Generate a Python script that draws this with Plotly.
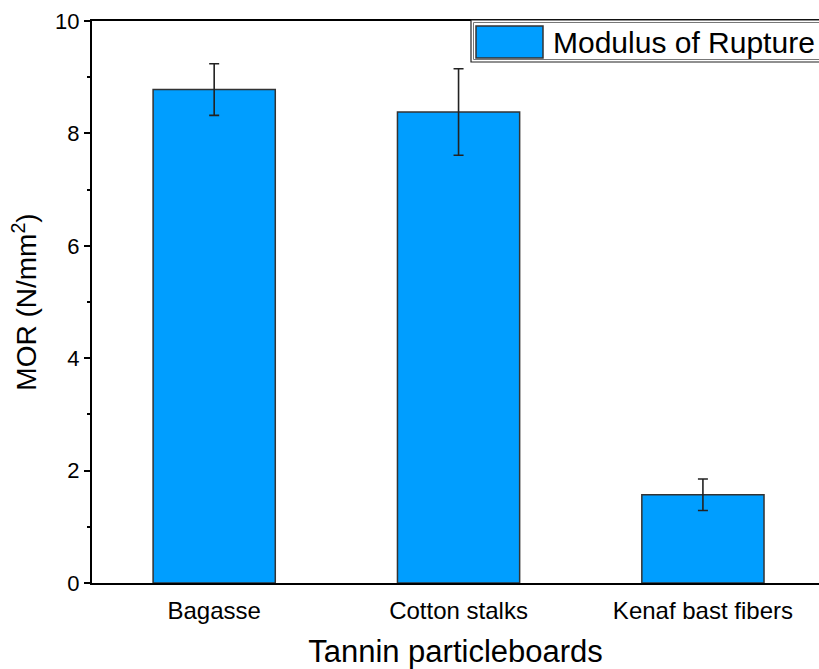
import plotly.graph_objects as go

# Flexural strength of tannin-bonded particleboards
categories = ["Bagasse", "Cotton stalks", "Kenaf bast fibers"]
mor_mean = [8.78, 8.38, 1.57]
mor_sd = [0.46, 0.77, 0.28]
y_ticks = [0, 2, 4, 6, 8, 10]
series_name = "Modulus of Rupture"

W, H = 819, 669
ML, MR, MT, MB = 92, 0, 21, 86
PW, PH = W - ML - MR, H - MT - MB

BAR_FILL = "#009EFF"
EDGE = "#333333"
FONT = "Liberation Sans, Arial, sans-serif"


def px(x):
    return (x - ML) / PW


def py(y):
    return (H - MB - y) / PH


fig = go.Figure()
fig.add_trace(go.Bar(
    x=list(range(len(categories))),
    y=mor_mean,
    width=0.5,
    name=series_name,
    marker=dict(color=BAR_FILL, line=dict(color=EDGE, width=1.5)),
    error_y=dict(type="data", array=mor_sd, visible=True,
                 color="#222222", thickness=1.6, width=5),
    showlegend=False,
))

# framed legend box with swatch
fig.add_shape(type="rect", xref="paper", yref="paper",
              x0=px(471), x1=px(830), y0=py(62), y1=py(20),
              line=dict(color="#222222", width=1.2), fillcolor="white")
fig.add_shape(type="rect", xref="paper", yref="paper",
              x0=px(473.5), x1=px(830), y0=py(59.5), y1=py(22.5),
              line=dict(color="#777777", width=1), fillcolor="rgba(0,0,0,0)")
fig.add_shape(type="rect", xref="paper", yref="paper",
              x0=px(476), x1=px(543), y0=py(58), y1=py(26),
              line=dict(color=EDGE, width=1.5), fillcolor=BAR_FILL)
fig.add_annotation(xref="paper", yref="paper", x=px(551), y=py(42),
                   xanchor="left", yanchor="middle", showarrow=False,
                   text=series_name, font=dict(family=FONT, size=30, color="black"))

fig.update_layout(
    width=W, height=H,
    margin=dict(l=ML, r=MR, t=MT, b=MB),
    plot_bgcolor="white", paper_bgcolor="white",
    font=dict(family=FONT, color="black"),
    bargap=0.5,
    xaxis=dict(
        range=[-0.5, 2.475],
        tickmode="array",
        tickvals=list(range(len(categories))),
        ticktext=categories,
        tickfont=dict(size=24, family=FONT),
        ticks="",
        ticklabelstandoff=5,
        showline=True, linecolor="black", linewidth=2,
        mirror=True,
        showgrid=False, zeroline=False,
        title=dict(text="Tannin particleboards", font=dict(size=31, family=FONT), standoff=18),
    ),
    yaxis=dict(
        range=[0, 10],
        tickvals=y_ticks,
        tickfont=dict(size=22, family=FONT),
        ticks="outside", ticklen=6, tickwidth=2, tickcolor="black",
        minor=dict(dtick=1, ticks="outside", ticklen=3, tickwidth=2, tickcolor="black"),
        showline=True, linecolor="black", linewidth=2,
        showgrid=False, zeroline=False,
        title=dict(text="MOR (N/mm<sup>2</sup>)", font=dict(size=28, family=FONT), standoff=10),
    ),
)

fig.write_html("out.html")
